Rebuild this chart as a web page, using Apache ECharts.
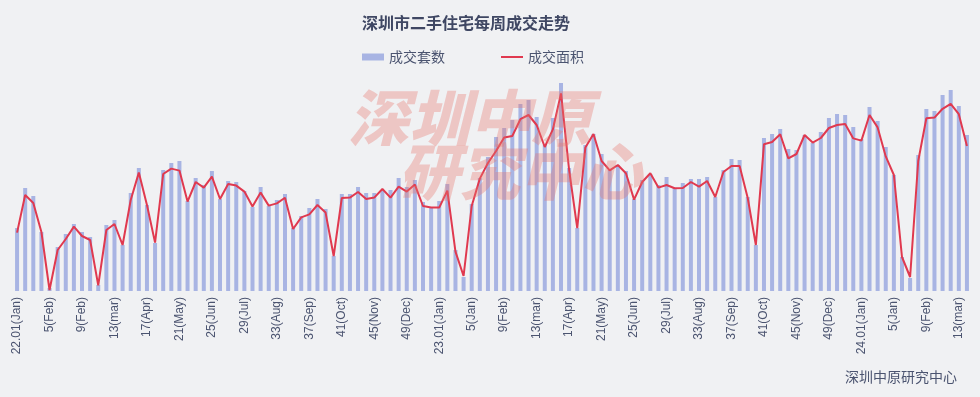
<!DOCTYPE html>
<html>
<head>
<meta charset="utf-8">
<script src="https://cdn.jsdelivr.net/npm/echarts@6/dist/echarts.min.js"></script>
<style>
html,body{margin:0;padding:0;background:#f0f1f3;}
#c{width:980px;height:397px;}
</style>
</head>
<body>
<div id="c"></div>
<script>
var weeks2022 = ["22.01(Jan)","2(Jan)","3(Jan)","4(Jan)","5(Feb)","6(Feb)","7(Feb)","8(Feb)","9(Feb)","10(mar)","11(mar)","12(mar)","13(mar)","14(Apr)","15(Apr)","16(Apr)","17(Apr)","18(May)","19(May)","20(May)","21(May)","22(Jun)","23(Jun)","24(Jun)","25(Jun)","26(Jul)","27(Jul)","28(Jul)","29(Jul)","30(Jul)","31(Aug)","32(Aug)","33(Aug)","34(Aug)","35(Sep)","36(Sep)","37(Sep)","38(Sep)","39(Sep)","40(Oct)","41(Oct)","42(Oct)","43(Oct)","44(Nov)","45(Nov)","46(Nov)","47(Nov)","48(Dec)","49(Dec)","50(Dec)","51(Dec)","52(Dec)"];
var weeks2023 = ["23.01(Jan)","2(Jan)","3(Jan)","4(Jan)","5(Jan)","6(Feb)","7(Feb)","8(Feb)","9(Feb)","10(mar)","11(mar)","12(mar)","13(mar)","14(Apr)","15(Apr)","16(Apr)","17(Apr)","18(May)","19(May)","20(May)","21(May)","22(Jun)","23(Jun)","24(Jun)","25(Jun)","26(Jul)","27(Jul)","28(Jul)","29(Jul)","30(Jul)","31(Aug)","32(Aug)","33(Aug)","34(Aug)","35(Sep)","36(Sep)","37(Sep)","38(Sep)","39(Sep)","40(Oct)","41(Oct)","42(Oct)","43(Oct)","44(Nov)","45(Nov)","46(Nov)","47(Nov)","48(Dec)","49(Dec)","50(Dec)","51(Dec)","52(Dec)"];
var weeks2024 = ["24.01(Jan)","2(Jan)","3(Jan)","4(Jan)","5(Jan)","6(Feb)","7(Feb)","8(Feb)","9(Feb)","10(mar)","11(mar)","12(mar)","13(mar)","14(Apr)"];

// 成交套数 (sets)
var units = [378,618,570,354,18,264,342,402,354,324,36,396,426,276,588,738,516,288,726,768,780,540,678,636,720,552,660,654,600,504,624,510,546,582,378,450,498,552,492,210,582,582,624,588,588,606,606,678,624,666,534,504,
540,642,246,84,522,678,804,924,978,1026,1122,1146,1044,876,1038,1248,738,378,876,942,822,726,756,720,552,666,702,636,684,618,648,672,672,684,564,726,792,786,564,276,918,942,972,852,846,936,888,954,1038,1062,1056,984,
912,1104,1020,864,696,204,78,816,1092,1080,1176,1206,1110,936];

// 成交面积 (万㎡)
var area = [2.92,4.80,4.40,2.95,0.05,2.05,2.60,3.22,2.75,2.55,0.28,3.05,3.35,2.30,4.55,5.92,4.30,2.42,5.85,6.12,6.02,4.47,5.45,5.17,5.72,4.60,5.35,5.27,4.97,4.22,4.92,4.27,4.38,4.66,3.10,3.68,3.83,4.30,3.92,1.75,4.65,4.67,4.95,4.60,4.67,5.10,4.67,5.22,4.97,5.32,4.25,4.17,
4.17,5.02,1.97,0.75,4.25,5.62,6.40,7.00,7.67,7.75,8.59,8.80,8.30,7.20,8.08,9.88,6.05,3.14,7.18,7.85,6.50,6.03,6.30,5.89,4.57,5.45,5.89,5.17,5.30,5.14,5.15,5.45,5.22,5.50,4.70,5.95,6.25,6.25,4.65,2.30,7.34,7.45,7.84,6.63,6.85,7.80,7.42,7.65,8.15,8.30,8.35,7.63,
7.52,8.80,8.18,6.73,5.80,1.70,0.70,6.50,8.64,8.67,9.11,9.36,8.84,7.25];

var categories = weeks2022.concat(weeks2023, weeks2024);
var textColor = '#4b5470';
var cjk = '"Noto Sans CJK SC", sans-serif';

var chart = echarts.init(document.getElementById('c'));
chart.setOption({
  backgroundColor: '#f0f1f3',
  animation: false,
  title: {
    text: '深圳市二手住宅每周成交走势',
    left: 362, top: 15, padding: 0,
    textStyle: {fontSize: 16, fontWeight: 'bold', color: '#3f4763', fontFamily: cjk}
  },
  legend: {
    left: 362, top: 50, padding: 0, itemGap: 56,
    itemWidth: 22, itemHeight: 7,
    textStyle: {fontSize: 14, color: textColor, fontFamily: cjk},
    data: [
      {name: '成交套数', icon: 'rect'},
      {name: '成交面积', icon: 'path://M0,0 L22,0 L22,2 L0,2 Z'}
    ]
  },
  grid: {left: 13, right: 9, top: 71, bottom: 106, containLabel: false},
  xAxis: {
    type: 'category',
    data: categories,
    boundaryGap: true,
    axisLine: {show: false},
    axisTick: {show: false},
    axisLabel: {
      interval: 3, rotate: 90, margin: 6,
      fontSize: 12, color: textColor,
      fontFamily: '"Liberation Sans", Arial, sans-serif'
    }
  },
  yAxis: [
    {type: 'value', min: 0, max: 1320, show: false, splitLine: {show: false}},
    {type: 'value', min: 0, max: 11, show: false, splitLine: {show: false}}
  ],
  series: [
    {
      name: '成交套数', type: 'bar', data: units, barWidth: 4,
      itemStyle: {color: '#a8b4e3'}, yAxisIndex: 0
    },
    {
      name: '成交面积', type: 'line', data: area, yAxisIndex: 1,
      symbol: 'none', showSymbol: false,
      lineStyle: {color: '#e0394f', width: 2},
      itemStyle: {color: '#e0394f'}
    }
  ],
  graphic: [
    {
      type: 'text', left: 348, top: 87, z: 100, silent: true,
      style: {text: '深圳中原', fontSize: 61, fontWeight: 900, fontStyle: 'italic',
        fontFamily: cjk, fill: 'rgba(232,118,108,0.35)'}
    },
    {
      type: 'text', left: 398, top: 141, z: 100, silent: true,
      style: {text: '研究中心', fontSize: 61, fontWeight: 900, fontStyle: 'italic',
        fontFamily: cjk, fill: 'rgba(232,118,108,0.35)'}
    },
    {
      type: 'text', left: 845, top: 370,
      style: {text: '深圳中原研究中心', fontSize: 14, fill: textColor, fontFamily: cjk}
    }
  ]
});
</script>
</body>
</html>
